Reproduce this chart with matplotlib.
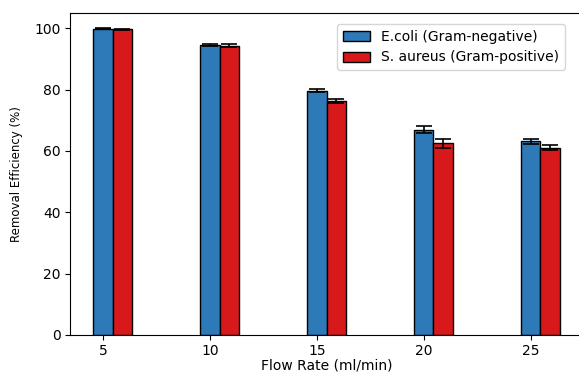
import matplotlib
matplotlib.use("Agg")
import matplotlib.pyplot as plt
import numpy as np

flow_rates = [5, 10, 15, 20, 25]
ecoli = [99.9, 94.6, 79.6, 67.0, 63.1]
ecoli_err = [0.2, 0.3, 0.5, 1.2, 0.8]
saureus = [99.7, 94.3, 76.4, 62.5, 61.1]
saureus_err = [0.2, 0.5, 0.7, 1.5, 0.9]
series_labels = ["E.coli (Gram-negative)", "S. aureus (Gram-positive)"]

fig = plt.figure(figsize=(5.79, 3.72), dpi=100)
ax = fig.add_axes([70/579, 1-335/372, 513/579, (335-13)/372])

x = np.array(flow_rates, dtype=float)
w = 0.9
ax.bar(x, ecoli, w, yerr=ecoli_err, color='#2e7ab8', edgecolor='black', linewidth=1,
       capsize=6, error_kw=dict(elinewidth=1.2, capthick=1.2), label=series_labels[0])
ax.bar(x + w, saureus, w, yerr=saureus_err, color='#d7191c', edgecolor='black', linewidth=1,
       capsize=6, error_kw=dict(elinewidth=1.2, capthick=1.2), label=series_labels[1])

ax.set_xticks(flow_rates)
ax.set_xticklabels([str(v) for v in flow_rates])
ax.tick_params(labelsize=10, pad=3)
ax.set_xlabel("Flow Rate (ml/min)", fontsize=10, labelpad=0)
ax.set_ylabel("Removal Efficiency (%)", fontsize=8.5, labelpad=8)
ax.set_ylim(0, 105)
ax.spines['right'].set_visible(False)

ax.legend(loc='upper right', bbox_to_anchor=(565/579, 1-24/372), bbox_transform=fig.transFigure,
          borderaxespad=0, fontsize=10, frameon=True, handlelength=2.0)

fig.savefig("out.png", dpi=100)
